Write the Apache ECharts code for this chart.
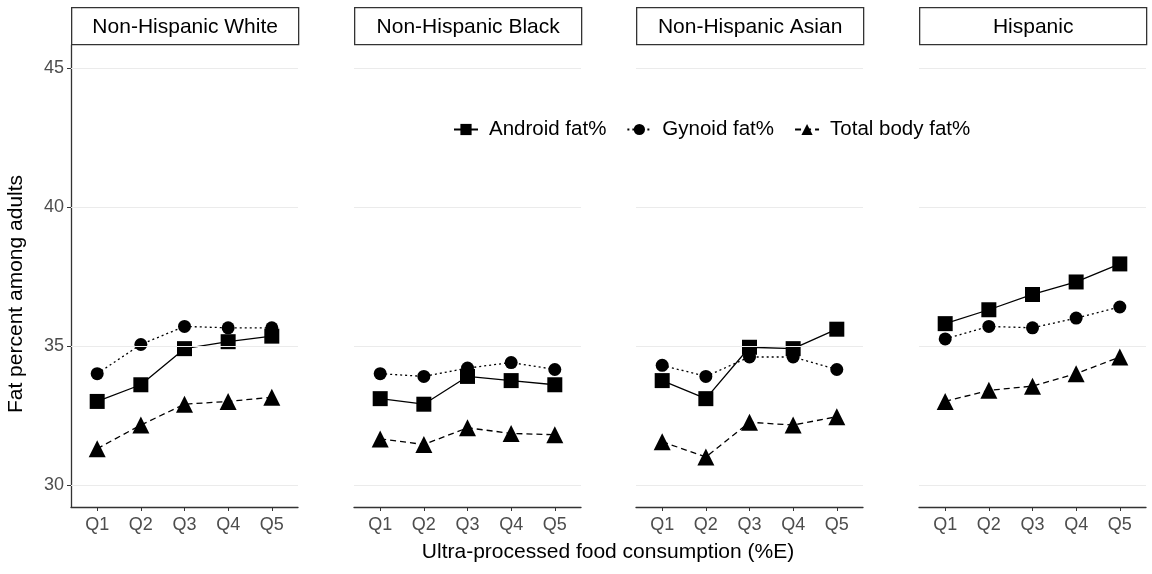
<!DOCTYPE html>
<html>
<head>
<meta charset="utf-8">
<script src="https://cdn.jsdelivr.net/npm/echarts@6/dist/echarts.min.js"></script>
<style>
  html, body { margin: 0; padding: 0; background: #fff; }
  #chart { width: 1152px; height: 574px; }
</style>
</head>
<body>
<div id="chart"></div>
<script>
// Quintiles of ultra-processed food intake
const quintiles = ['Q1', 'Q2', 'Q3', 'Q4', 'Q5'];
const groups = ['Non-Hispanic White', 'Non-Hispanic Black', 'Non-Hispanic Asian', 'Hispanic'];
const measures = ['Android fat%', 'Gynoid fat%', 'Total body fat%'];
const yTicks = [30, 35, 40, 45];

// Mean fat percent by quintile, one array per group
const androidFat = {
  'Non-Hispanic White': [33.0, 33.6, 34.9, 35.15, 35.35],
  'Non-Hispanic Black': [33.1, 32.9, 33.9, 33.75, 33.6],
  'Non-Hispanic Asian': [33.75, 33.1, 34.95, 34.9, 35.6],
  'Hispanic':           [35.8, 36.3, 36.85, 37.3, 37.95]
};
const gynoidFat = {
  'Non-Hispanic White': [34.0, 35.05, 35.7, 35.65, 35.65],
  'Non-Hispanic Black': [34.0, 33.9, 34.2, 34.4, 34.15],
  'Non-Hispanic Asian': [34.3, 33.9, 34.6, 34.6, 34.15],
  'Hispanic':           [35.25, 35.7, 35.65, 36.0, 36.4]
};
const totalFat = {
  'Non-Hispanic White': [31.3, 32.15, 32.9, 33.0, 33.15],
  'Non-Hispanic Black': [31.65, 31.45, 32.05, 31.85, 31.8],
  'Non-Hispanic Asian': [31.55, 31.0, 32.25, 32.15, 32.45],
  'Hispanic':           [33.0, 33.4, 33.55, 34.0, 34.6]
};

const FONT = '"Liberation Sans", Arial, sans-serif';
const panelLeft = [71, 354, 636, 919];
const panelWidth = 227;
const panelTop = 45;
const panelBottom = 507;

const seriesDefs = [
  { name: measures[0], src: androidFat, symbol: 'rect', size: 15, line: 'solid' },
  { name: measures[1], src: gynoidFat, symbol: 'circle', size: 13, line: [2, 3] },
  { name: measures[2], src: totalFat, symbol: 'triangle', size: 17, line: [6, 4] }
];

const grids = [], xAxes = [], yAxes = [], series = [], graphics = [];
groups.forEach((g, i) => {
  grids.push({ left: panelLeft[i], width: panelWidth, top: panelTop, height: panelBottom - panelTop, containLabel: false });
  xAxes.push({
    gridIndex: i, type: 'value', min: 0.4, max: 5.6,
    axisLine: { show: true, lineStyle: { color: '#333', width: 1.3 } },
    axisTick: { show: true, length: 4, lineStyle: { color: '#333', width: 1 }, customValues: [1, 2, 3, 4, 5] },
    axisLabel: { show: true, color: '#4d4d4d', fontSize: 18, fontFamily: FONT, margin: 9,
      customValues: [1, 2, 3, 4, 5], formatter: v => quintiles[Math.round(v) - 1] },
    splitLine: { show: false }
  });
  yAxes.push({
    gridIndex: i, type: 'value', min: 29.2, max: 45.83,
    name: i === 0 ? 'Fat percent among adults' : '',
    nameLocation: 'middle', nameGap: 44, nameRotate: 90,
    nameTextStyle: { color: '#000', fontSize: 21, fontFamily: FONT, padding: [0, 36, 0, 0] },
    axisLine: { show: i === 0, lineStyle: { color: '#333', width: 1.3 } },
    axisTick: { show: i === 0, length: 4, lineStyle: { color: '#333' }, customValues: yTicks },
    axisLabel: { show: i === 0, color: '#4d4d4d', fontSize: 18, fontFamily: FONT, margin: 7, customValues: yTicks },
    splitLine: { show: false }
  });
  // horizontal reference lines at the major ticks
  series.push({
    type: 'line', xAxisIndex: i, yAxisIndex: i, data: [], silent: true, z: 1,
    markLine: {
      silent: true, symbol: 'none', label: { show: false },
      lineStyle: { color: '#ebebeb', type: 'solid', width: 1.2 },
      data: yTicks.map(t => ({ yAxis: t }))
    }
  });
  seriesDefs.forEach(d => {
    series.push({
      name: d.name, type: 'line', xAxisIndex: i, yAxisIndex: i, z: 3,
      data: d.src[g].map((v, k) => [k + 1, v]),
      symbol: d.symbol, symbolSize: d.symbol === 'rect' ? [d.size, d.size] : d.size,
      itemStyle: { color: '#000' },
      lineStyle: { color: '#000', width: 1.3, type: d.line },
      emphasis: { disabled: true }, animation: false
    });
  });
  // facet strip
  graphics.push({
    type: 'group', left: panelLeft[i], top: 7,
    children: [
      { type: 'rect', shape: { x: 0, y: 0, width: panelWidth, height: 37 },
        style: { fill: '#fff', stroke: '#333', lineWidth: 1.3 } },
      { type: 'text', x: panelWidth / 2, y: 19.5,
        style: { text: g, fill: '#000', font: '21px ' + FONT, textAlign: 'center', textVerticalAlign: 'middle' } }
    ]
  });
});

graphics.push({
  type: 'text', x: 608, y: 552,
  style: { text: 'Ultra-processed food consumption (%E)', fill: '#000', font: '21px ' + FONT,
    textAlign: 'center', textVerticalAlign: 'middle' }
});

const chart = echarts.init(document.getElementById('chart'), null, { renderer: 'canvas' });
chart.setOption({
  animation: false,
  backgroundColor: '#fff',
  grid: grids,
  xAxis: xAxes,
  yAxis: yAxes,
  series: series,
  graphic: graphics,
  legend: {
    data: measures, left: 448, top: 114, itemWidth: 24, itemHeight: 14, itemGap: 20,
    textStyle: { color: '#000', fontSize: 20.5, fontFamily: FONT, padding: [0, 0, 0, 6] },
    selectedMode: false
  }
});
</script>
</body>
</html>
